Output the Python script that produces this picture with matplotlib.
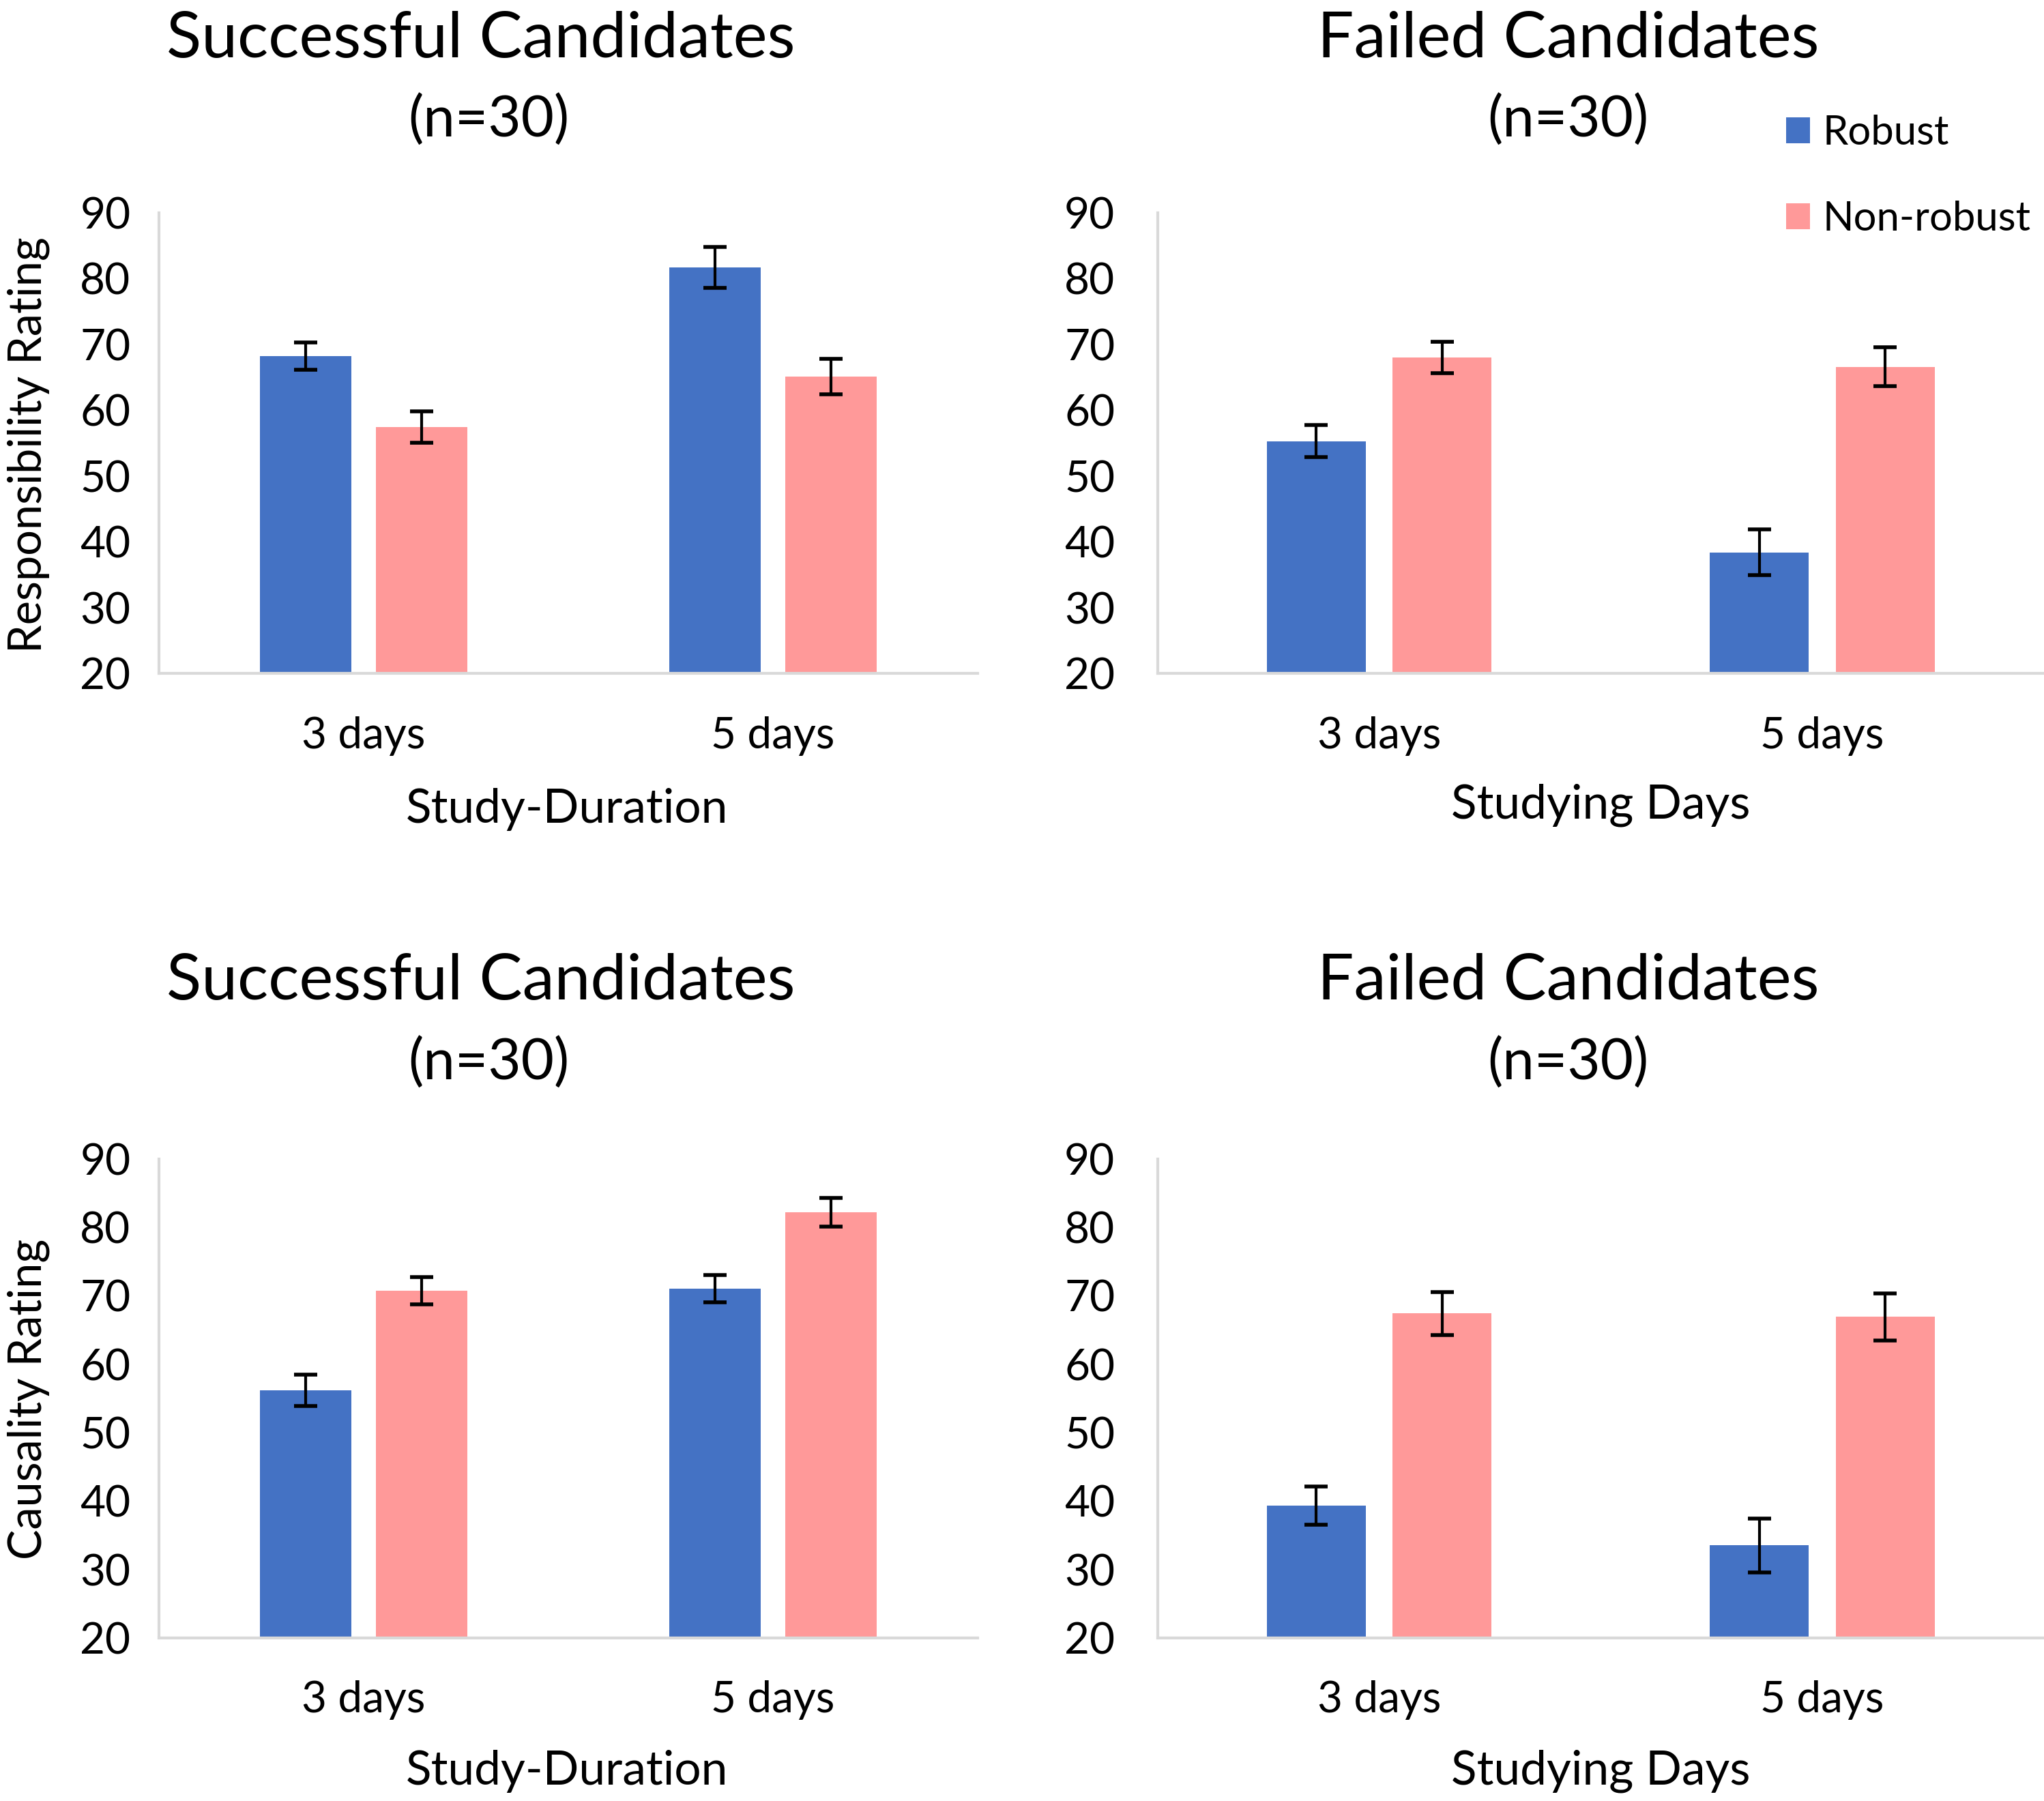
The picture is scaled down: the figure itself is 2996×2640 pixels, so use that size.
import matplotlib
matplotlib.use('Agg')
import matplotlib.pyplot as plt
import numpy as np

plt.rcParams['font.family'] = ['Lato', 'DejaVu Sans']

categories = ['3 days', '5 days']
series = ['Robust', 'Non-robust']
colors = ['#4472C4', '#FF9999']

# responsibility ratings (top row)
resp_success_robust = [68.2, 81.7]
resp_success_robust_err = [2.1, 3.1]
resp_success_nonrobust = [57.4, 65.1]
resp_success_nonrobust_err = [2.4, 2.7]
resp_failed_robust = [55.3, 38.4]
resp_failed_robust_err = [2.4, 3.5]
resp_failed_nonrobust = [68.0, 66.6]
resp_failed_nonrobust_err = [2.4, 3.0]

# causality ratings (bottom row)
caus_success_robust = [56.2, 71.0]
caus_success_robust_err = [2.3, 2.0]
caus_success_nonrobust = [70.7, 82.2]
caus_success_nonrobust_err = [2.0, 2.1]
caus_failed_robust = [39.3, 33.5]
caus_failed_robust_err = [2.8, 3.9]
caus_failed_nonrobust = [67.4, 66.9]
caus_failed_nonrobust_err = [3.1, 3.4]

W, H = 2996, 2640
fig = plt.figure(figsize=(W / 100, H / 100), dpi=100)

rects = {
    'tl': [0.0778, 0.6261, 0.4005, 0.2558],
    'tr': [0.5663, 0.6261, 0.4337, 0.2558],
    'bl': [0.0778, 0.0906, 0.4005, 0.2659],
    'br': [0.5663, 0.0906, 0.4337, 0.2659],
}

panels = [
    ('tl', resp_success_robust, resp_success_robust_err, resp_success_nonrobust, resp_success_nonrobust_err, 30),
    ('tr', resp_failed_robust, resp_failed_robust_err, resp_failed_nonrobust, resp_failed_nonrobust_err, 45),
    ('bl', caus_success_robust, caus_success_robust_err, caus_success_nonrobust, caus_success_nonrobust_err, 30),
    ('br', caus_failed_robust, caus_failed_robust_err, caus_failed_nonrobust, caus_failed_nonrobust_err, 45),
]

x = np.arange(len(categories))
width = 0.223
offset = 0.142
handles = []
for key, rob, rob_err, non, non_err, ypad in panels:
    ax = fig.add_axes(rects[key])
    b1 = ax.bar(x - offset, rob, width, color=colors[0], label=series[0])
    b2 = ax.bar(x + offset, non, width, color=colors[1], label=series[1])
    for xs, vals, errs in [(x - offset, rob, rob_err), (x + offset, non, non_err)]:
        ax.errorbar(xs, vals, yerr=errs, fmt='none', ecolor='black',
                    elinewidth=3, capsize=12, capthick=4)
    ax.set_ylim(20, 90)
    ax.set_xlim(-0.5, 1.5)
    ax.set_yticks(range(20, 91, 10))
    ax.set_xticks(x)
    ax.set_xticklabels(categories)
    for s in ['top', 'right']:
        ax.spines[s].set_visible(False)
    for s in ['left', 'bottom']:
        ax.spines[s].set_color('#d9d9d9')
        ax.spines[s].set_linewidth(3)
    ax.tick_params(axis='both', length=0, labelsize=46)
    ax.tick_params(axis='y', pad=ypad)
    ax.tick_params(axis='x', pad=45)
    if not handles:
        handles = [b1, b2]

# titles
for y_title, y_n in [(0.978, 0.933), (0.455, 0.4094)]:
    fig.text(0.2353, y_title, 'Successful Candidates', ha='center', va='center', fontsize=68)
    fig.text(0.2390, y_n, '(n=30)', ha='center', va='center', fontsize=60)
    fig.text(0.7672, y_title, 'Failed Candidates', ha='center', va='center', fontsize=68)
    fig.text(0.7672, y_n, '(n=30)', ha='center', va='center', fontsize=60)

# axis labels
fig.text(0.2775, 1 - 620 / 1380, 'Study-Duration', ha='center', va='center', fontsize=50)
fig.text(0.7832, 1 - 617 / 1380, 'Studying Days', ha='center', va='center', fontsize=50)
fig.text(0.2775, 1 - 1357 / 1380, 'Study-Duration', ha='center', va='center', fontsize=50)
fig.text(0.7832, 1 - 1357 / 1380, 'Studying Days', ha='center', va='center', fontsize=50)
fig.text(0.014, 1 - 341 / 1380, 'Responsibility Rating', ha='center', va='center',
         rotation=90, fontsize=48)
fig.text(0.014, 1 - 1072 / 1380, 'Causality Rating', ha='center', va='center',
         rotation=90, fontsize=48)

fig.legend(handles, series, loc='upper left', bbox_to_anchor=(0.8737, 0.9363),
           frameon=False, fontsize=43, handlelength=0.6, handleheight=0.6,
           handletextpad=0.3, labelspacing=1.2, borderpad=0, borderaxespad=0)

fig.savefig('out.png', dpi=100, facecolor='white')
